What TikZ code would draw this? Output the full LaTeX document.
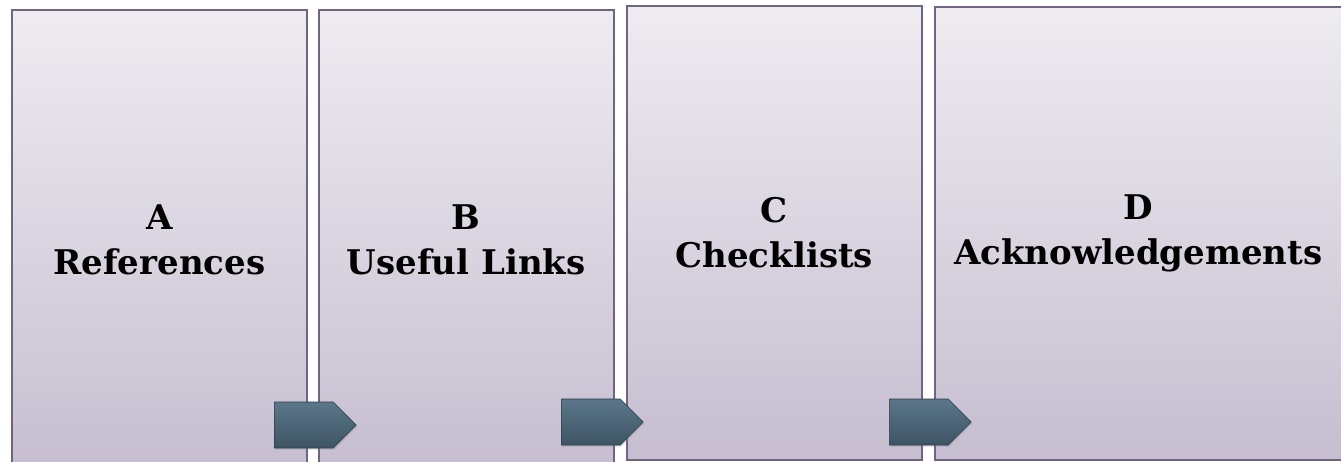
\documentclass[tikz,border=0pt]{standalone}
\usepackage{fontspec}
\setmainfont{DejaVu Serif}
\usetikzlibrary{shapes.symbols,shadows}
\definecolor{panelTop}{HTML}{EEECF1}
\definecolor{panelBot}{HTML}{C6BED0}
\definecolor{panelLine}{HTML}{706482}
\definecolor{chevTop}{HTML}{5A7789}
\definecolor{chevBot}{HTML}{3E5464}
\definecolor{chevEdge}{HTML}{2C3C48}
\tikzset{
  panel/.style={draw=panelLine, line width=1.6pt, rectangle, anchor=north west,
    top color=panelTop, bottom color=panelBot,
    drop shadow={shadow xshift=0pt, shadow yshift=-1.5pt, opacity=0.18},
    align=center, font=\fontsize{34}{45}\selectfont\bfseries, inner sep=0pt},
  chevron/.style={signal, signal to=east, signal from=nowhere, signal pointer angle=90,
    minimum width=82pt, minimum height=46pt, inner sep=0pt, anchor=west,
    draw=chevEdge, line width=0.6pt, top color=chevTop, bottom color=chevBot,
    drop shadow={shadow xshift=1pt, shadow yshift=-1.5pt, opacity=0.3}}
}
\begin{document}
\begin{tikzpicture}[x=1pt,y=-1pt]
\useasboundingbox (0,0) rectangle (1341,462);
\node[panel, minimum width=295pt, minimum height=461pt] (pa) at (11,9) {A\\References};
\node[panel, minimum width=295pt, minimum height=461pt] (pb) at (318,9) {B\\Useful Links};
\node[panel, minimum width=295pt, minimum height=454pt] (pc) at (626,5) {C\\Checklists};
\node[panel, minimum width=407pt, minimum height=453pt] (pd) at (934,6) {D\\Acknowledgements};
\node[chevron] (ab) at (274,425) {};
\node[chevron] (bc) at (561,422) {};
\node[chevron] (cd) at (889,422) {};
\end{tikzpicture}
\end{document}
